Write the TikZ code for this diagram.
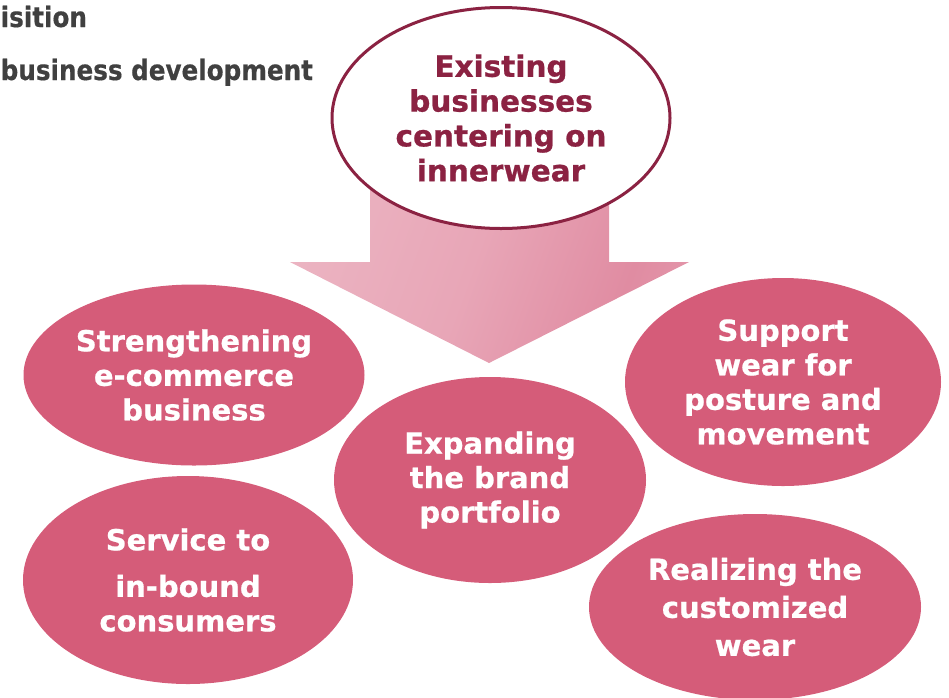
\documentclass[tikz,border=0pt]{standalone}
\usepackage{fontspec}
\setmainfont{DejaVu Sans}
\newfontfamily\heavysans{DejaVu Sans Bold}[FakeBold=0.7]
\newfontfamily\narrowsans{DejaVu Sans Bold}[FakeStretch=0.88, FakeBold=0.5]
\usetikzlibrary{shapes.geometric}

\definecolor{petal}{HTML}{D55C79}
\definecolor{wine}{HTML}{8B2242}
\definecolor{inkgray}{HTML}{404040}
\definecolor{pkA}{HTML}{EFC1CC}
\definecolor{pkB}{HTML}{E8A6B7}
\definecolor{pkC}{HTML}{E08CA2}
\definecolor{pkD}{HTML}{EAADBC}

% soft pink band running across the big arrow
\pgfdeclarehorizontalshading{flowshade}{100bp}{%
  color(0bp)=(pkA); color(48bp)=(pkB); color(70bp)=(pkC); color(100bp)=(pkD)}

\tikzset{
  bubble/.style={ellipse, fill=petal, draw=none, inner sep=0pt, align=center,
    text=white, font=\heavysans\fontsize{29}{34.5}\selectfont},
  hub/.style={ellipse, fill=white, draw=wine, line width=3pt, inner sep=0pt,
    align=center, text=wine, font=\heavysans\fontsize{29.5}{34.8}\selectfont},
  caption/.style={inner sep=0pt, text=inkgray, font=\narrowsans\fontsize{28}{32}\selectfont},
}

\begin{document}
\begin{tikzpicture}[x=1pt, y=-1pt]
  \useasboundingbox (0,0) rectangle (949,697);

  % heading lines
  \node[caption, anchor=base west] (headA) at (0.5,27) {isition};
  \node[caption, anchor=base west] (headB) at (0.5,80) {business development};

  % broad downward arrow
  \path[shading=flowshade, shading angle=-20]
    (370,150) -- (609,150) -- (609,262) -- (689,262) -- (489,363)
    -- (290,262) -- (370,262) -- cycle;

  % source of the arrow
  \node[hub, minimum width=338pt, minimum height=221pt] (core) at (501,118)
    {Existing\\businesses\\centering on\\innerwear};

  % surrounding initiatives
  \node[bubble, minimum width=341pt, minimum height=181pt] (ecom) at (194,375)
    {Strengthening\\e-commerce\\business};
  \node[bubble, minimum width=330pt, minimum height=208pt] (inbound) at (188,580)
    {Service to\\[12pt]in-bound\\consumers};
  \node[bubble, minimum width=312pt, minimum height=206pt] (brand) at (490,480)
    {Expanding\\the brand\\portfolio};
  \node[bubble, minimum width=316pt, minimum height=208pt] (posture) at (783,382)
    {Support\\wear for\\posture and\\movement};
  \node[bubble, minimum width=332pt, minimum height=186pt,
        font=\heavysans\fontsize{29}{38}\selectfont] (custom) at (755,607)
    {Realizing the\\customized\\wear};
\end{tikzpicture}
\end{document}
